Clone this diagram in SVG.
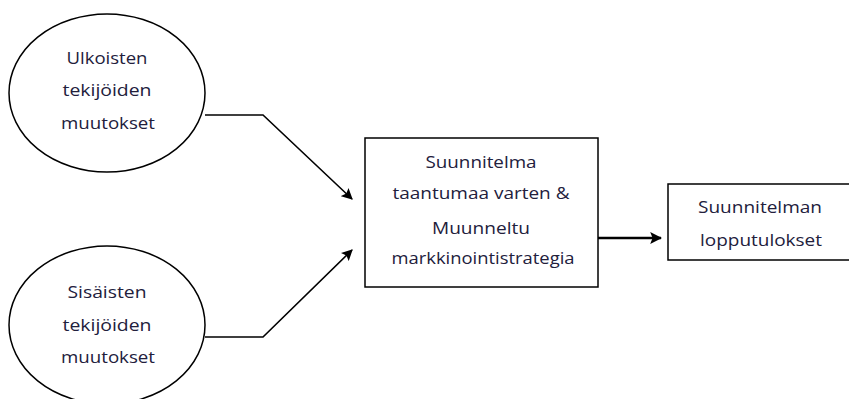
<svg xmlns="http://www.w3.org/2000/svg" width="849" height="399" viewBox="0 0 849 399">
  <style>
    .shape { fill: #ffffff; stroke: #000000; stroke-width: 1.5; }
    .label { font-family: "Open Sans", "Liberation Sans", sans-serif; font-size: 16px; fill: #22203c; text-anchor: middle; }
    .conn { fill: none; stroke: #000000; stroke-width: 1.6; }
    .conn-thick { fill: none; stroke: #000000; stroke-width: 2.4; }
  </style>
  <defs>
    <marker id="arrow" viewBox="0 0 10 10" refX="9" refY="5" markerWidth="7" markerHeight="7" orient="auto" markerUnits="strokeWidth">
      <path d="M0,0 L10,5 L0,10 L2,5 z" fill="#000000"/>
    </marker>
    <marker id="arrow-thick" viewBox="0 0 10 10" refX="9" refY="5" markerWidth="5" markerHeight="5" orient="auto" markerUnits="strokeWidth">
      <path d="M0,0 L10,5 L0,10 L2,5 z" fill="#000000"/>
    </marker>
  </defs>
  <rect width="849" height="399" fill="#ffffff"/>

  <g id="connectors">
    <polyline class="conn" points="205,115 263,115 352,199" marker-end="url(#arrow)"/>
    <polyline class="conn" points="205,337 263,337 352,250" marker-end="url(#arrow)"/>
    <line class="conn-thick" x1="598" y1="238" x2="661" y2="238" marker-end="url(#arrow-thick)"/>
  </g>

  <g id="ulkoiset">
    <ellipse class="shape" cx="107" cy="93" rx="98" ry="79"/>
    <text class="label" x="107" y="64" textLength="81" lengthAdjust="spacingAndGlyphs">Ulkoisten</text>
    <text class="label" x="107" y="96" textLength="89" lengthAdjust="spacingAndGlyphs">tekijöiden</text>
    <text class="label" x="108" y="129" textLength="94" lengthAdjust="spacingAndGlyphs">muutokset</text>
  </g>

  <g id="sisaiset">
    <ellipse class="shape" cx="107" cy="325" rx="98" ry="79"/>
    <text class="label" x="107" y="298" textLength="79" lengthAdjust="spacingAndGlyphs">Sisäisten</text>
    <text class="label" x="107" y="331" textLength="89" lengthAdjust="spacingAndGlyphs">tekijöiden</text>
    <text class="label" x="108" y="363" textLength="94" lengthAdjust="spacingAndGlyphs">muutokset</text>
  </g>

  <g id="suunnitelma">
    <rect class="shape" x="365" y="138" width="233" height="149"/>
    <text class="label" x="481" y="168" textLength="111" lengthAdjust="spacingAndGlyphs">Suunnitelma</text>
    <text class="label" x="481" y="199" textLength="177" lengthAdjust="spacingAndGlyphs">taantumaa varten &amp;</text>
    <text class="label" x="481" y="234" textLength="98" lengthAdjust="spacingAndGlyphs">Muunneltu</text>
    <text class="label" x="483" y="264" textLength="183" lengthAdjust="spacingAndGlyphs">markkinointistrategia</text>
  </g>

  <g id="lopputulokset">
    <rect class="shape" x="668" y="184" width="190" height="76"/>
    <text class="label" x="760" y="213" textLength="124" lengthAdjust="spacingAndGlyphs">Suunnitelman</text>
    <text class="label" x="761" y="246" textLength="122" lengthAdjust="spacingAndGlyphs">lopputulokset</text>
  </g>
</svg>
